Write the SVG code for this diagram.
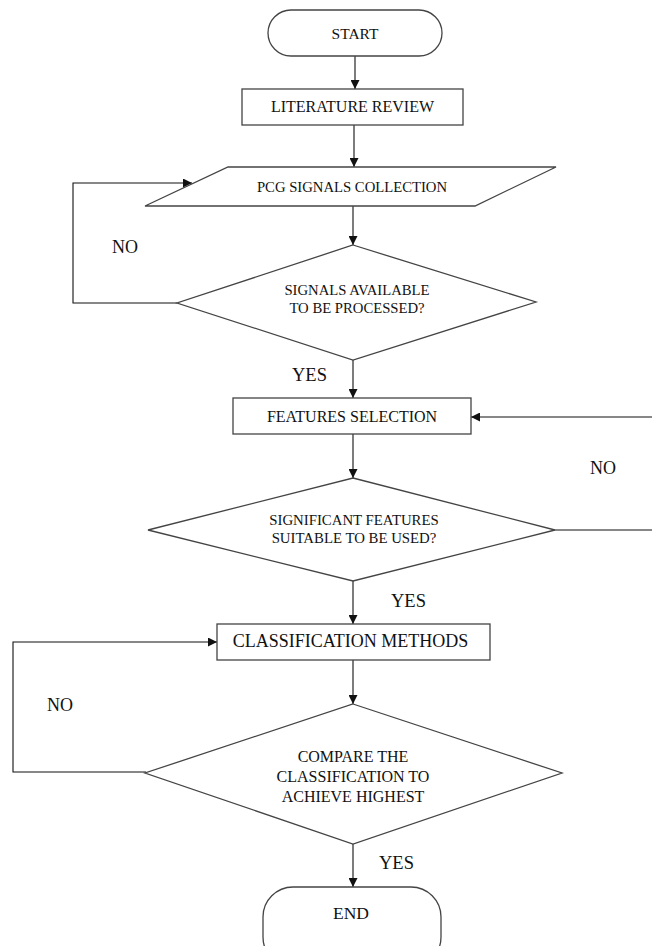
<svg xmlns="http://www.w3.org/2000/svg" width="652" height="946" viewBox="0 0 652 946" font-family="'Liberation Serif', 'Times New Roman', 'DejaVu Serif', serif">
<style>
.shape{fill:#fff;stroke:#444;stroke-width:1.3}
.conn{fill:none;stroke:#111;stroke-width:1.1}
.t{font-family:'Liberation Serif','Times New Roman','DejaVu Serif',serif;fill:#111;text-anchor:middle}
.lbl{font-family:'Liberation Serif','Times New Roman','DejaVu Serif',serif;fill:#111;text-anchor:start}
</style>
<defs>
<marker id="ah" viewBox="0 0 10 10" refX="10" refY="5" markerWidth="9" markerHeight="9" markerUnits="userSpaceOnUse" orient="auto">
<path d="M0,0 L10,5 L0,10 z" fill="#111"/>
</marker>
</defs>
<rect width="652" height="946" fill="#fff"/>
<g id="connectors">
<line class="conn" x1="355" y1="56" x2="355" y2="89" marker-end="url(#ah)"/>
<line class="conn" x1="354" y1="125" x2="354" y2="167" marker-end="url(#ah)"/>
<line class="conn" x1="353" y1="206" x2="353" y2="245" marker-end="url(#ah)"/>
<polyline class="conn" points="177,303 73,303 73,183 192,183" marker-end="url(#ah)"/>
<line class="conn" x1="353" y1="360" x2="353" y2="398" marker-end="url(#ah)"/>
<line class="conn" x1="353" y1="434" x2="353" y2="478" marker-end="url(#ah)"/>
<line class="conn" x1="555" y1="530" x2="652" y2="530"/>
<line class="conn" x1="652" y1="417" x2="471" y2="417" marker-end="url(#ah)"/>
<line class="conn" x1="353" y1="581" x2="353" y2="624" marker-end="url(#ah)"/>
<line class="conn" x1="353" y1="660" x2="353" y2="704" marker-end="url(#ah)"/>
<polyline class="conn" points="146,772 13,772 13,642 217,642" marker-end="url(#ah)"/>
<line class="conn" x1="353" y1="844" x2="353" y2="887" marker-end="url(#ah)"/>
</g>
<g id="start">
<rect class="shape" x="268" y="10" width="174" height="46" rx="23" ry="23"/>
<text class="t" x="355" y="39" font-size="15.5">START</text>
</g>
<g id="literature">
<rect class="shape" x="242" y="89" width="221" height="36"/>
<text class="t" x="352.5" y="112" font-size="16">LITERATURE REVIEW</text>
</g>
<g id="pcg">
<polygon class="shape" points="228,167 556,167 475,206 145,206"/>
<text class="t" x="352" y="192" font-size="14.7">PCG SIGNALS COLLECTION</text>
</g>
<g id="decision1">
<polygon class="shape" points="353,245 536,302 353,360 177,303"/>
<text class="t" x="357" y="295" font-size="14.7">SIGNALS AVAILABLE</text>
<text class="t" x="357" y="313" font-size="14.7">TO BE PROCESSED?</text>
</g>
<g id="features">
<rect class="shape" x="233" y="398" width="238" height="36"/>
<text class="t" x="352" y="422" font-size="16">FEATURES SELECTION</text>
</g>
<g id="decision2">
<polygon class="shape" points="353,478 555,530 353,581 148,530"/>
<text class="t" x="354" y="525" font-size="14.8">SIGNIFICANT FEATURES</text>
<text class="t" x="354" y="543" font-size="14.8">SUITABLE TO BE USED?</text>
</g>
<g id="classification">
<rect class="shape" x="217" y="624" width="273" height="36"/>
<text class="t" x="350.5" y="647" font-size="18">CLASSIFICATION METHODS</text>
</g>
<g id="decision3">
<polygon class="shape" points="353,704 562,773 353,844 145,773"/>
<text class="t" x="353" y="762" font-size="16">COMPARE THE</text>
<text class="t" x="353" y="782" font-size="16">CLASSIFICATION TO</text>
<text class="t" x="353" y="802" font-size="16">ACHIEVE HIGHEST</text>
</g>
<g id="end">
<rect class="shape" x="263" y="887" width="178" height="80" rx="30" ry="30"/>
<text class="t" x="351" y="919" font-size="17.5">END</text>
</g>
<g id="labels">
<text class="lbl" x="112" y="253" font-size="18">NO</text>
<text class="lbl" x="292" y="381" font-size="18.5">YES</text>
<text class="lbl" x="590" y="474" font-size="18">NO</text>
<text class="lbl" x="391" y="607" font-size="18.5">YES</text>
<text class="lbl" x="47" y="711" font-size="18">NO</text>
<text class="lbl" x="379" y="869" font-size="18.5">YES</text>
</g>
</svg>
